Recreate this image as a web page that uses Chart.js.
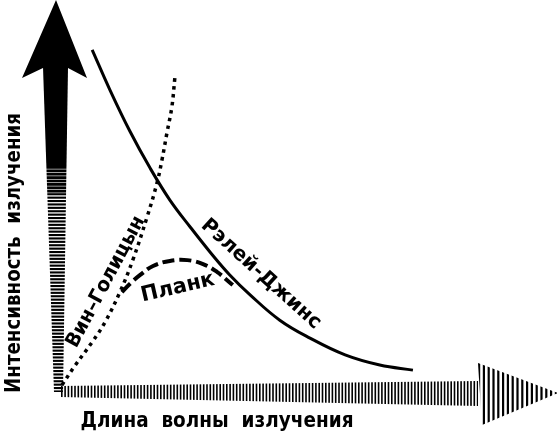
<!DOCTYPE html>
<html><head><meta charset="utf-8">
<script src="https://cdn.jsdelivr.net/npm/chart.js@4.4.1/dist/chart.umd.min.js"></script>
<style>html,body{margin:0;padding:0;background:#fff}#wrap{width:560px;height:434px;position:relative}</style>
</head><body><div id="wrap"><canvas id="c"></canvas></div>
<script>
// ---- data (arbitrary units: wavelength 0..10, intensity 0..10) ----
const seriesNames = ['Рэлей-Джинс', 'Вин–Голицын', 'Планк'];
const xAxisTitle = 'Длина  волны  излучения';
const yAxisTitle = 'Интенсивность  излучения';

const rjWavelength = [0.65, 1.01, 1.41, 1.82, 2.22, 2.63, 3.03, 3.43, 3.84, 4.44, 5.05, 5.76, 6.46, 7.13];
const rjIntensity  = [8.72, 7.69, 6.64, 5.69, 4.87, 4.18, 3.54, 2.95, 2.44, 1.79, 1.33, 0.90, 0.64, 0.51];

const wgWavelength = [0.04, 0.30, 0.65, 0.91, 1.21, 1.47, 1.76, 1.96, 2.06, 2.16, 2.26, 2.32];
const wgIntensity  = [0.13, 0.62, 1.23, 1.74, 2.51, 3.33, 4.44, 5.31, 5.90, 6.59, 7.26, 8.00];

const plWavelength = [1.25, 1.41, 1.62, 1.88, 2.22, 2.57, 2.89, 3.17, 3.37, 3.49];
const plIntensity  = [2.51, 2.72, 2.95, 3.18, 3.31, 3.33, 3.23, 3.03, 2.82, 2.69];

// label anchors (data units)
const labelX = [4.06, 0.93, 2.38];
const labelY = [2.97, 2.77, 2.62];

const pts = (xs, ys) => xs.map((x, i) => ({x, y: ys[i]}));

const FONT = '"DejaVu Sans", sans-serif';

function drawFit(ctx, text, cx, cy, angleDeg, font, targetW) {
  ctx.save();
  ctx.translate(cx, cy);
  ctx.rotate(angleDeg * Math.PI / 180);
  ctx.font = font;
  const w = ctx.measureText(text).width;
  ctx.scale(targetW / w, 1);
  ctx.textAlign = 'center';
  ctx.textBaseline = 'middle';
  ctx.fillStyle = '#000';
  ctx.fillText(text, 0, 0);
  ctx.restore();
}

const arrowsPlugin = {
  id: 'arrows',
  beforeDatasetsDraw(chart) {
    const ctx = chart.ctx;
    const xs = chart.scales.x, ys = chart.scales.y;
    const ox = xs.getPixelForValue(0) - 2;   // axis origin
    const oy = ys.getPixelForValue(0) + 1;
    const top = ys.getPixelForValue(10);
    const right = xs.getPixelForValue(10) + 3;
    ctx.save();
    ctx.fillStyle = '#000';
    // ---- Y arrow head ----
    ctx.beginPath();
    ctx.moveTo(ox - 2, top);
    ctx.lineTo(ox + 29, top + 78);
    ctx.lineTo(ox + 10, top + 68);
    ctx.lineTo(ox - 15, top + 68);
    ctx.lineTo(ox - 36, top + 78);
    ctx.closePath();
    ctx.fill();
    // ---- Y shaft (tapering, solid then striped) ----
    ctx.save();
    ctx.beginPath();
    ctx.moveTo(ox - 15, top + 67);
    ctx.lineTo(ox + 10, top + 67);
    ctx.lineTo(ox + 5, oy + 1);
    ctx.lineTo(ox - 4, oy + 1);
    ctx.closePath();
    ctx.clip();
    ctx.fillRect(ox - 20, top + 66, 40, 100);
    for (let y = top + 166, k = 0; y < oy + 1; y += 3.4, k++) {
      const h = k < 8 ? 2.8 : 2.1;
      ctx.fillRect(ox - 20, y, 40, h);
    }
    ctx.restore();
    // ---- X shaft (widening, vertical stripes) ----
    const headX = right - 80;
    ctx.save();
    ctx.beginPath();
    ctx.moveTo(ox + 2, oy - 5);
    ctx.lineTo(headX, oy - 10);
    ctx.lineTo(headX, oy + 15);
    ctx.lineTo(ox + 2, oy + 6);
    ctx.closePath();
    ctx.clip();
    for (let x = ox + 3; x < headX; x += 3.3) {
      ctx.fillRect(x, oy - 14, 1.6, 32);
    }
    ctx.restore();
    // ---- X head (striped triangle) ----
    ctx.save();
    ctx.beginPath();
    ctx.moveTo(headX, oy - 28);
    ctx.lineTo(right, oy + 2);
    ctx.lineTo(headX + 4, oy + 34);
    ctx.closePath();
    ctx.clip();
    for (let x = headX; x < right; x += 4.8) {
      ctx.fillRect(x, oy - 30, 2.2, 66);
    }
    ctx.restore();
    ctx.restore();
  },
  afterDatasetsDraw(chart) {
    const ctx = chart.ctx;
    const xs = chart.scales.x, ys = chart.scales.y;
    const angles = [42, -62, -13];
    const widths = [154, 146, 75];
    const fonts = ['bold 20px ' + FONT, 'bold 20px ' + FONT, 'bold 21px ' + FONT];
    seriesNames.forEach((t, i) => {
      drawFit(ctx, t, xs.getPixelForValue(labelX[i]), ys.getPixelForValue(labelY[i]),
              angles[i], fonts[i], widths[i]);
    });
    // axis titles
    drawFit(ctx, xAxisTitle, 217, 421, 0, 'bold 22px ' + FONT, 273);
    drawFit(ctx, yAxisTitle, 15, 253, -90, 'bold 21px ' + FONT, 280);
  }
};

new Chart(document.getElementById('c'), {
  type: 'scatter',
  data: {
    datasets: [
      { label: seriesNames[0], data: pts(rjWavelength, rjIntensity), showLine: true,
        borderColor: '#000', borderWidth: 3, pointRadius: 0, tension: 0.4 },
      { label: seriesNames[1], data: pts(wgWavelength, wgIntensity), showLine: true,
        borderColor: '#000', borderWidth: 3.5, borderDash: [3.5, 4.5], pointRadius: 0,
        tension: 0.4 },
      { label: seriesNames[2], data: pts(plWavelength, plIntensity), showLine: true,
        borderColor: '#000', borderWidth: 4, borderDash: [12, 5], pointRadius: 0,
        tension: 0.4 }
    ]
  },
  options: {
    responsive: true,
    maintainAspectRatio: false,
    animation: false,
    layout: { padding: { left: 60, right: 5, top: 0, bottom: 44 } },
    scales: {
      x: { type: 'linear', min: 0, max: 10, display: false },
      y: { type: 'linear', min: 0, max: 10, display: false }
    },
    plugins: { legend: { display: false }, tooltip: { enabled: false } }
  },
  plugins: [arrowsPlugin]
});
</script>
</body></html>
